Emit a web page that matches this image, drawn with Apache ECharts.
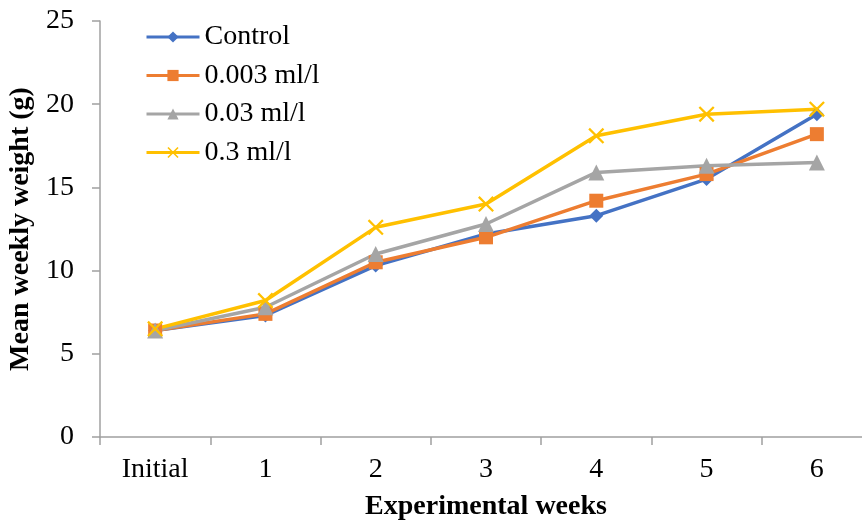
<!DOCTYPE html>
<html>
<head>
<meta charset="utf-8">
<script src="https://cdn.jsdelivr.net/npm/echarts@6/dist/echarts.min.js"></script>
<style>html,body{margin:0;padding:0;background:#fff;}#c{width:862px;height:522px;}</style>
</head>
<body>
<div id="c"></div>
<script>
const categories = ['Initial', '1', '2', '3', '4', '5', '6'];
const control = [6.4, 7.3, 10.3, 12.2, 13.3, 15.5, 19.4];
const d0003 = [6.4, 7.4, 10.5, 12.0, 14.2, 15.8, 18.2];
const d003 = [6.4, 7.8, 11.0, 12.8, 15.9, 16.3, 16.5];
const d03 = [6.5, 8.2, 12.6, 14.0, 18.1, 19.4, 19.7];
const yTicks = [0, 5, 10, 15, 20, 25];

const font = 'Liberation Serif';
const crossPath = 'path://M0,1L1,0L5,4L9,0L10,1L6,5L10,9L9,10L5,6L1,10L0,9L4,5Z';

function mk(name, data, color, symbol, size) {
  return {
    name: name, type: 'line', data: data, symbol: symbol, symbolSize: size,
    lineStyle: {color: color, width: 3.5}, itemStyle: {color: color},
    emphasis: {disabled: true}, animation: false
  };
}

const chart = echarts.init(document.getElementById('c'));
chart.setOption({
  animation: false,
  backgroundColor: '#fff',
  textStyle: {fontFamily: font},
  grid: {left: 100, right: -10, top: 21, bottom: 85, outerBoundsMode: 'none', containLabel: false},
  legend: {
    left: 145, top: 23, padding: 0, orient: 'vertical', itemWidth: 53, itemHeight: 14, itemGap: 10.5,
    lineStyle: {width: 3},
    textStyle: {fontFamily: font, fontSize: 28, color: '#000', lineHeight: 28},
    data: ['Control', '0.003 ml/l', '0.03 ml/l', '0.3 ml/l']
  },
  xAxis: {
    type: 'category', data: categories, boundaryGap: true,
    name: 'Experimental weeks', nameLocation: 'middle', nameGap: 56,
    nameTextStyle: {fontFamily: font, fontSize: 28, fontWeight: 'bold', color: '#000'},
    axisLine: {lineStyle: {color: '#a0a0a0', width: 1.5}},
    axisTick: {show: true, inside: false, length: 8, lineStyle: {color: '#a0a0a0', width: 1.5}},
    axisLabel: {fontFamily: font, fontSize: 28, color: '#000', margin: 19}
  },
  yAxis: {
    type: 'value', min: yTicks[0], max: yTicks[yTicks.length - 1], interval: 5,
    name: 'Mean weekly weight (g)', nameLocation: 'middle', nameGap: 58,
    nameTextStyle: {fontFamily: font, fontSize: 28, fontWeight: 'bold', color: '#000'},
    axisLine: {show: true, lineStyle: {color: '#a0a0a0', width: 1.5}},
    axisTick: {show: true, length: 8, lineStyle: {color: '#a0a0a0', width: 1.5}},
    splitLine: {show: false},
    axisLabel: {fontFamily: font, fontSize: 28, color: '#000', margin: 26}
  },
  series: [
    mk('Control', control, '#4472C4', 'diamond', 14),
    mk('0.003 ml/l', d0003, '#ED7D31', 'rect', 14),
    mk('0.03 ml/l', d003, '#A5A5A5', 'triangle', 16),
    mk('0.3 ml/l', d03, '#FFC000', crossPath, 16)
  ]
});
</script>
</body>
</html>
